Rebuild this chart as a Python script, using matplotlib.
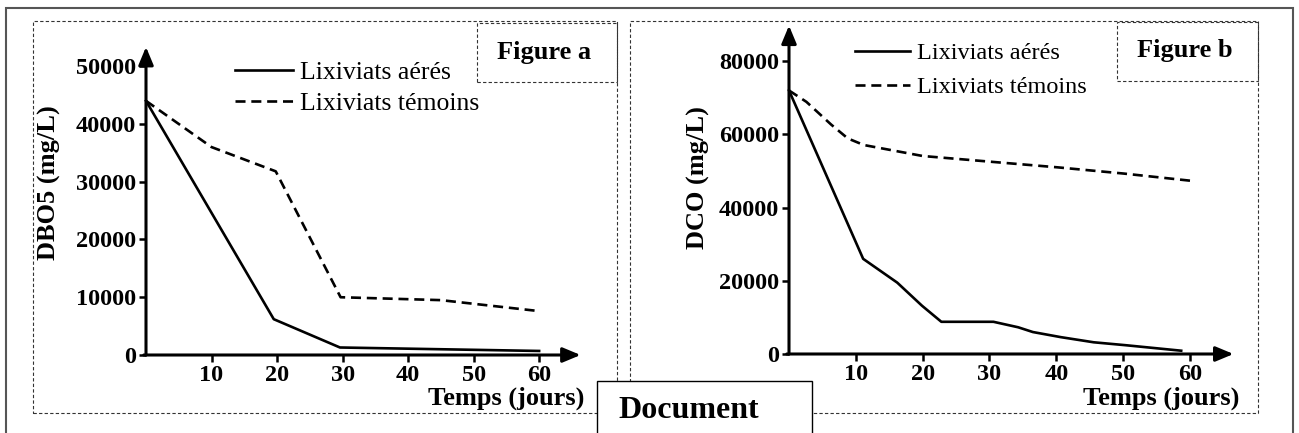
import matplotlib
matplotlib.use("Agg")
import matplotlib.pyplot as plt
from matplotlib.patches import Rectangle

plt.rcParams['font.family'] = ['Liberation Serif', 'DejaVu Serif']

# Figure a : DBO5 (mg/L) vs temps (jours)
days_a_aeres = [0, 19.5, 29.6, 60]
dbo5_aeres = [44000, 6200, 1300, 700]
days_a_temoins = [0, 10, 19.8, 29.7, 45, 60]
dbo5_temoins = [44000, 36000, 31800, 10000, 9500, 7600]

# Figure b : DCO (mg/L) vs temps (jours)
days_b_aeres = [0, 11.1, 16.2, 19.9, 22.8, 30.6, 34.3, 36.5, 40.7, 45.6, 50.4, 58.7]
dco_aeres = [72000, 26000, 19500, 13200, 8800, 8800, 7300, 6000, 4600, 3200, 2400, 900]
days_b_temoins = [0, 2.6, 6.3, 8.8, 11.2, 20, 30.4, 40.2, 50.1, 60.3]
dco_temoins = [72000, 68900, 62700, 58900, 57100, 54100, 52500, 51000, 49300, 47300]

x_ticks = [10, 20, 30, 40, 50, 60]
y_ticks_a = [0, 10000, 20000, 30000, 40000, 50000]
y_ticks_b = [0, 20000, 40000, 60000, 80000]
labels = ['Lixiviats aérés', 'Lixiviats témoins']

W, H = 1299, 433


def fx(x):
    return x / W


def fy(y):
    return 1 - y / H


fig = plt.figure(figsize=(W / 100, H / 100), dpi=100)

# frames (outer border, dashed panels, small title boxes)
tf = fig.transFigure
dash = (0, (3, 2))
fig.patches.append(Rectangle((fx(6), fy(445)), fx(1293 - 6), (445 - 8) / H, transform=tf,
                             fill=False, ec='#555555', lw=1.5))
for x0, x1, y0, y1 in [(33, 617, 21, 413), (630, 1258, 21, 413),
                       (477, 617, 23, 82), (1117, 1258, 22, 81)]:
    fig.patches.append(Rectangle((fx(x0), fy(y1)), (x1 - x0) / W, (y1 - y0) / H, transform=tf,
                                 fill=False, ec='#333333', lw=0.8, ls=dash))

fig.text(fx(544), fy(52), 'Figure a', ha='center', va='center', fontsize=19, fontweight='bold')
fig.text(fx(1185), fy(51), 'Figure b', ha='center', va='center', fontsize=19, fontweight='bold')


def setup(ax, xmax, ymax, yticks):
    ax.set_xlim(0, xmax)
    ax.set_ylim(0, ymax)
    for s in ax.spines.values():
        s.set_visible(False)
    ax.set_xticks(x_ticks)
    ax.set_yticks(yticks)
    ax.tick_params(direction='out', length=5, width=1.8, pad=2, labelsize=17.5)
    for lab in ax.get_xticklabels() + ax.get_yticklabels():
        lab.set_fontweight('bold')
    arrow = dict(arrowstyle='-|>,head_length=0.6,head_width=0.25', lw=2.2, color='black',
                 shrinkA=0, shrinkB=0, mutation_scale=18)
    ax.annotate('', xy=(xmax * 0.99, 0), xytext=(-xmax * 0.005, 0), arrowprops=arrow,
                annotation_clip=False)
    ax.annotate('', xy=(0, ymax * 0.997), xytext=(0, 0), arrowprops=arrow,
                annotation_clip=False)
    ax.patch.set_alpha(0)


dash_line = (0, (3.8, 2.2))

ax_a = fig.add_axes([fx(146), fy(355), (585 - 146) / W, (355 - 46) / H])
setup(ax_a, 67, 53500, y_ticks_a)
l1, = ax_a.plot(days_a_aeres, dbo5_aeres, color='black', lw=1.9, clip_on=False)
l2, = ax_a.plot(days_a_temoins, dbo5_temoins, color='black', lw=1.9, ls=dash_line, clip_on=False)
ax_a.legend([l1, l2], labels, loc='upper left', bbox_to_anchor=(fx(235), fy(61)),
            bbox_transform=tf, frameon=False, fontsize=18.5, borderpad=0, borderaxespad=0,
            handlelength=2.25, handletextpad=0.27, labelspacing=0.3)
fig.text(fx(49), fy(183), 'DBO5 (mg/L)', rotation=90, ha='center', va='center',
         fontsize=19, fontweight='bold')
fig.text(fx(584), fy(398), 'Temps (jours)', ha='right', va='center', fontsize=19, fontweight='bold')

ax_b = fig.add_axes([fx(789), fy(354), 449 / W, (354 - 24.6) / H])
setup(ax_b, 67.2, 90000, y_ticks_b)
m1, = ax_b.plot(days_b_aeres, dco_aeres, color='black', lw=1.9, clip_on=False)
m2, = ax_b.plot(days_b_temoins, dco_temoins, color='black', lw=1.9, ls=dash_line, clip_on=False)
ax_b.legend([m1, m2], labels, loc='upper left', bbox_to_anchor=(fx(855), fy(42)),
            bbox_transform=tf, frameon=False, fontsize=17.5, borderpad=0, borderaxespad=0,
            handlelength=2.26, handletextpad=0.29, labelspacing=0.5)
fig.text(fx(698), fy(178), 'DCO (mg/L)', rotation=90, ha='center', va='center',
         fontsize=19, fontweight='bold')
fig.text(fx(1239), fy(398), 'Temps (jours)', ha='right', va='center', fontsize=19, fontweight='bold')

# "Document" box over the bottom edge
fig.patches.append(Rectangle((fx(597), fy(445)), (812 - 597) / W, (445 - 381) / H, transform=tf,
                             fc='white', ec='black', lw=1.0, zorder=5))
fig.text(fx(618), fy(410), 'Document', ha='left', va='center', fontsize=23, fontweight='bold',
         zorder=6)

fig.savefig('out.png', dpi=100)
